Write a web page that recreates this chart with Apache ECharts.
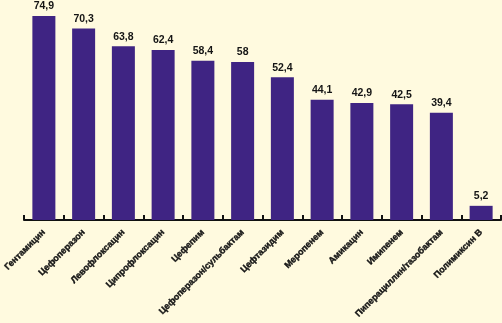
<!DOCTYPE html>
<html>
<head>
<meta charset="utf-8">
<script src="https://cdn.jsdelivr.net/npm/echarts@6/dist/echarts.min.js"></script>
<style>
  html, body { margin: 0; padding: 0; background: #FFFADF; }
  #chart { width: 502px; height: 323px; }
</style>
</head>
<body>
<div id="chart"></div>
<script>
// Antibiotic names along the category axis
const categories = [
  'Гентамицин', 'Цефоперазон', 'Левофлоксацин', 'Ципрофлоксацин',
  'Цефепим', 'Цефоперазон/сульбактам', 'Цефтазидим', 'Меропенем',
  'Амикацин', 'Имипенем', 'Пиперациллин/тазобактам', 'Полимиксин В'
];
// Percentage for each antibiotic
const values = [74.9, 70.3, 63.8, 62.4, 58.4, 58, 52.4, 44.1, 42.9, 42.5, 39.4, 5.2];

const labelFont = "'Liberation Sans', Arial, sans-serif";

const chart = echarts.init(document.getElementById('chart'), null, { renderer: 'canvas' });
chart.setOption({
  backgroundColor: '#FFFADF',
  animation: false,
  grid: { left: 24, right: 1, top: 2, bottom: 103, containLabel: false, outerBoundsMode: 'none' },
  xAxis: {
    type: 'category',
    data: categories,
    axisLine: { lineStyle: { color: '#111', width: 2 } },
    axisTick: { show: true, inside: true, length: 5, alignWithLabel: false, lineStyle: { color: '#111', width: 2 } },
    axisLabel: {
      rotate: 45,
      interval: 0,
      margin: 11,
      color: '#141414',
      textBorderColor: '#141414',
      textBorderWidth: 0.4,
      fontFamily: labelFont,
      fontWeight: 'bold',
      fontSize: 9
    }
  },
  yAxis: {
    type: 'value',
    min: 0,
    max: 80,
    show: false,
    splitLine: { show: false }
  },
  series: [{
    type: 'bar',
    data: values,
    barWidth: 23,
    itemStyle: { color: '#3F2483' },
    label: {
      show: true,
      position: 'top',
      distance: 4,
      color: '#141414',
      fontFamily: labelFont,
      fontWeight: 'bold',
      fontSize: 10.5,
      formatter: p => String(p.value).replace('.', ',')
    }
  }]
});
</script>
</body>
</html>
